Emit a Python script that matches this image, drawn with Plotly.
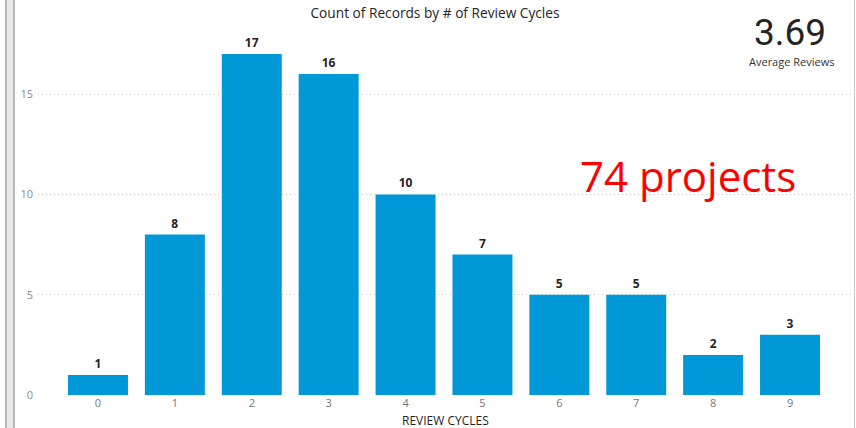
import plotly.graph_objects as go

review_cycles = ["0", "1", "2", "3", "4", "5", "6", "7", "8", "9"]
record_counts = [1, 8, 17, 16, 10, 7, 5, 5, 2, 3]
y_ticks = [0, 5, 10, 15]
title_text = "Count of Records by # of Review Cycles"
x_title = "REVIEW CYCLES"
kpi_value = "3.69"
kpi_label = "Average Reviews"
note_text = "74 projects"

W, H = 856, 428
ML, MR, MT, MB = 38, 1, 33, 33
PW = W - ML - MR
PH = H - MT - MB

def px_x(x):
    return (x - ML) / PW

def px_y(y):
    return (H - MB - y) / PH

fig = go.Figure(go.Bar(
    x=list(range(len(review_cycles))),
    y=record_counts,
    marker=dict(color="#0198D7", line=dict(width=0)),
    text=[str(v) for v in record_counts],
    textposition="outside",
    textfont=dict(family="Open Sans", size=12, color="#252423", weight="bold"),
    cliponaxis=False,
    width=0.78,
    hoverinfo="skip",
))

fig.update_layout(
    width=W, height=H,
    margin=dict(l=ML, r=MR, t=MT, b=MB, autoexpand=False),
    paper_bgcolor="white", plot_bgcolor="white",
    showlegend=False,
    title=dict(text=title_text, x=435 / W, xanchor="center", y=1 - 13 / H, yanchor="middle",
               font=dict(family="Open Sans", size=13.7, color="#252423")),
    xaxis=dict(
        tickmode="array", tickvals=list(range(len(review_cycles))), ticktext=review_cycles,
        range=[-0.78, 9.845], showgrid=False, zeroline=False, showline=False,
        tickfont=dict(family="Open Sans", size=11, color="#777777"),
        ticks="", fixedrange=True, automargin=False,
    ),
    yaxis=dict(
        tickvals=y_ticks, range=[0, 18.05], showgrid=True, gridcolor="#C8C8C8", griddash="1px,3px",
        gridwidth=1, zeroline=False, showline=False, ticks="",
        tickfont=dict(family="Open Sans", size=11, color="#8A8A8A"),
        ticklabelstandoff=4, automargin=False, fixedrange=True,
    ),
    bargap=0.22,
)

shapes = [
    dict(type="rect", xref="paper", yref="paper", x0=px_x(5), x1=px_x(15), y0=px_y(H), y1=px_y(0),
         fillcolor="#E6E8EB", line=dict(width=0), layer="below"),
    dict(type="line", xref="paper", yref="paper", x0=px_x(6), x1=px_x(6), y0=px_y(H), y1=px_y(0),
         line=dict(color="#B8B8B8", width=2)),
    dict(type="line", xref="paper", yref="paper", x0=px_x(14), x1=px_x(14), y0=px_y(H), y1=px_y(0),
         line=dict(color="#B8B8B8", width=2)),
    dict(type="line", xref="paper", yref="paper", x0=px_x(854.5), x1=px_x(854.5), y0=px_y(H), y1=px_y(0),
         line=dict(color="#C8C8C8", width=1)),
]
fig.update_layout(shapes=shapes)

fig.add_annotation(text=x_title, xref="paper", yref="paper", x=px_x(445), y=px_y(420),
                   xanchor="center", yanchor="middle", showarrow=False,
                   font=dict(family="Open Sans", size=12, color="#252423"))
fig.add_annotation(text=kpi_value, xref="paper", yref="paper", x=px_x(790), y=px_y(32),
                   xanchor="center", yanchor="middle", showarrow=False,
                   font=dict(family="Roboto", size=37, color="#252423"))
fig.add_annotation(text=kpi_label, xref="paper", yref="paper", x=px_x(791), y=px_y(61),
                   xanchor="center", yanchor="middle", showarrow=False,
                   font=dict(family="Open Sans", size=11, color="#333333"))
fig.add_annotation(text=note_text, xref="paper", yref="paper", x=px_x(688), y=px_y(175),
                   xanchor="center", yanchor="middle", showarrow=False,
                   font=dict(family="Open Sans", size=42, color="#FF0000"))

fig.write_html("out.html", config={"displayModeBar": False},
               post_script="document.body.style.margin='0';document.body.style.overflow='hidden';")
